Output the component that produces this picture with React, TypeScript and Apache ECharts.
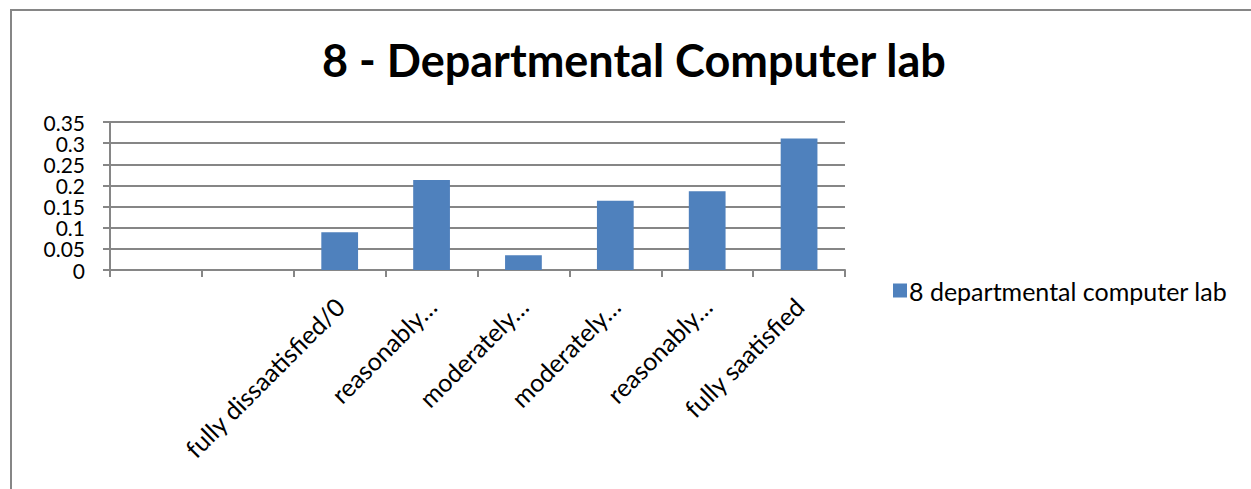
import React, { useEffect, useRef } from "react";
import * as echarts from "echarts";

const title = "8 - Departmental Computer lab";
const seriesName = "8 departmental computer lab";
const categories = ["", "", "fully dissaatisfied/0", "reasonably…", "moderately…", "moderately…", "reasonably…", "fully saatisfied"];
const values = [0, 0, 0.089, 0.213, 0.035, 0.164, 0.186, 0.311];
const yTicks = { min: 0, max: 0.35, interval: 0.05 };

const FONT = "Lato, 'Open Sans', sans-serif";
const GRID = "#868686";

export default function App() {
  const ref = useRef<HTMLDivElement>(null);
  useEffect(() => {
    document.body.style.margin = "0";
    const chart = echarts.init(ref.current!, null, { renderer: "svg" });
    chart.setOption({
      animation: false,
      backgroundColor: "#ffffff",
      textStyle: { fontFamily: FONT },
      title: {
        text: title,
        left: 317,
        top: 32,
        textStyle: { fontFamily: FONT, fontWeight: "bold", fontSize: 45, color: "#000" },
      },
      graphic: [
        {
          type: "rect",
          shape: { x: 11, y: 10, width: 1400, height: 700 },
          style: { fill: "none", stroke: GRID, lineWidth: 2 },
          silent: true,
          z: -1,
        },
      ],
      legend: {
        left: 888,
        top: 273,
        itemWidth: 14,
        itemHeight: 14,
        itemGap: 0,
        icon: "rect",
        textStyle: { fontFamily: FONT, fontSize: 25, color: "#000", padding: [0, 0, 0, -3] },
        data: [seriesName],
      },
      grid: { left: 110, right: 406, top: 122, bottom: 219, containLabel: false },
      xAxis: {
        type: "category",
        data: categories,
        axisLine: { lineStyle: { color: GRID, width: 2 } },
        axisTick: { show: true, length: 7, lineStyle: { color: GRID, width: 2 } },
        axisLabel: { rotate: 45, interval: 0, fontFamily: FONT, fontSize: 25, color: "#000", margin: 32 },
      },
      yAxis: {
        type: "value",
        min: yTicks.min,
        max: yTicks.max,
        interval: yTicks.interval,
        axisLine: { show: true, lineStyle: { color: GRID, width: 2 } },
        axisTick: { show: true, length: 7, lineStyle: { color: GRID, width: 2 } },
        axisLabel: {
          fontFamily: FONT,
          fontSize: 21,
          lineHeight: 12,
          color: "#000",
          margin: 25,
          showMinLabel: true,
          showMaxLabel: true,
          hideOverlap: false,
        },
        splitLine: { lineStyle: { color: GRID, width: 2 } },
      },
      series: [
        {
          name: seriesName,
          type: "bar",
          data: values,
          barWidth: "40%",
          itemStyle: { color: "#4F81BD" },
        },
      ],
    });
    return () => chart.dispose();
  }, []);
  return <div ref={ref} style={{ width: 1251, height: 489 }} />;
}
